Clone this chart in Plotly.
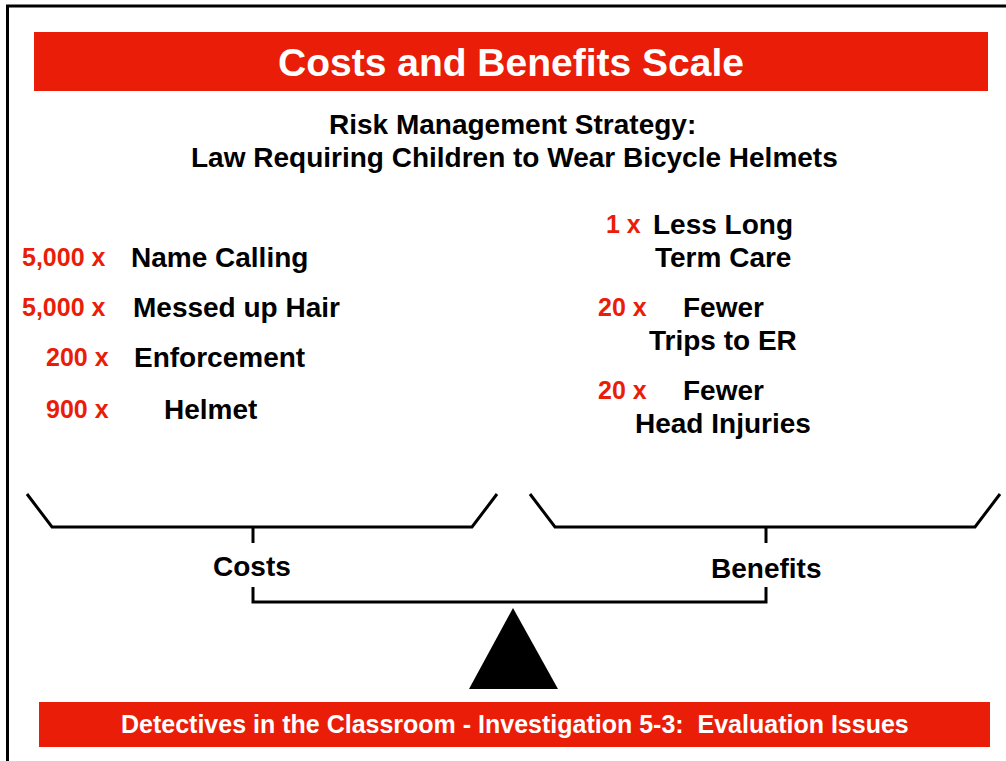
import plotly.graph_objects as go

# ---- data ----
title_text = "Costs and Benefits Scale"
subtitle_lines = ["Risk Management Strategy:", "Law Requiring Children to Wear Bicycle Helmets"]
cost_multipliers = ["5,000 x", "5,000 x", "200 x", "900 x"]
cost_labels = ["Name Calling", "Messed up Hair", "Enforcement", "Helmet"]
benefit_multipliers = ["1 x", "20 x", "20 x"]
benefit_labels = [["Less Long", "Term Care"], ["Fewer", "Trips to ER"], ["Fewer", "Head Injuries"]]
pan_labels = ["Costs", "Benefits"]
footer_text = "Detectives in the Classroom - Investigation 5-3:  Evaluation Issues"

# ---- layout (positions in page pixels) ----
W, H = 1006, 761
RED = "rgb(233,29,8)"
FONT = "Liberation Sans, Arial, sans-serif"

cost_y = [257, 307, 357, 409]
cost_mult_right = [108, 108, 111, 111]
cost_label_left = [129, 131, 132, 162]
benefit_y = [224, 307, 390]
benefit_mult_x = [623, 622, 622]
benefit_label_x = 723
benefit_line_gap = 33

fig = go.Figure()
fig.add_trace(go.Scatter(x=[0, W], y=[0, H], mode="markers", marker=dict(opacity=0),
                         hoverinfo="skip", showlegend=False))

shapes = []
# outer border (extends past right/bottom)
shapes.append(dict(type="path", path="M 1030 6 L 7.5 6 L 7.5 790", line=dict(color="black", width=3)))
# title bar
shapes.append(dict(type="rect", x0=34, x1=988, y0=32, y1=91, fillcolor=RED, line=dict(width=0)))
# footer bar
shapes.append(dict(type="rect", x0=39, x1=990, y0=702, y1=747, fillcolor=RED, line=dict(width=0)))
# left pan
shapes.append(dict(type="path", path="M 27 494 L 52 527 L 472 527 L 497 494", line=dict(color="black", width=3)))
shapes.append(dict(type="line", x0=253, x1=253, y0=527, y1=543, line=dict(color="black", width=3)))
# right pan
shapes.append(dict(type="path", path="M 530 494 L 555 527 L 975 527 L 1000 494", line=dict(color="black", width=3)))
shapes.append(dict(type="line", x0=766, x1=766, y0=527, y1=543, line=dict(color="black", width=3)))
# beam
shapes.append(dict(type="path", path="M 253 587 L 253 602 L 766 602 L 766 587", line=dict(color="black", width=3)))
# fulcrum
shapes.append(dict(type="path", path="M 513 608 L 558 689 L 469 689 Z", fillcolor="black", line=dict(color="black", width=0)))

ann = []
def txt(x, y, s, size, color="black", xanchor="center"):
    ann.append(dict(x=x, y=y, text=f"<b>{s}</b>", showarrow=False, xanchor=xanchor, yanchor="middle",
                    font=dict(family=FONT, size=size, color=color)))

txt(511, 62, title_text, 39, "white")
txt(512, 124, subtitle_lines[0], 28)
txt(514, 157, subtitle_lines[1], 28)

for m, lab, y, xr, xl in zip(cost_multipliers, cost_labels, cost_y, cost_mult_right, cost_label_left):
    txt(xr, y, m, 25, RED, "right")
    txt(xl, y, lab, 28, "black", "left")

for m, lines, y, mx in zip(benefit_multipliers, benefit_labels, benefit_y, benefit_mult_x):
    txt(mx, y, m, 25, RED)
    for i, line in enumerate(lines):
        txt(benefit_label_x, y + i * benefit_line_gap, line, 28)

txt(252, 566, pan_labels[0], 28)
txt(766, 568, pan_labels[1], 28)
txt(515, 724, footer_text, 25, "white")

fig.update_layout(
    width=W, height=H, margin=dict(l=0, r=0, t=0, b=0),
    paper_bgcolor="white", plot_bgcolor="white",
    xaxis=dict(range=[0, W], visible=False, fixedrange=True),
    yaxis=dict(range=[H, 0], visible=False, fixedrange=True),
    shapes=shapes, annotations=ann, showlegend=False,
)
fig.write_html("out.html", config={"displayModeBar": False},
               post_script="document.body.style.margin='0';document.body.style.overflow='hidden';")
